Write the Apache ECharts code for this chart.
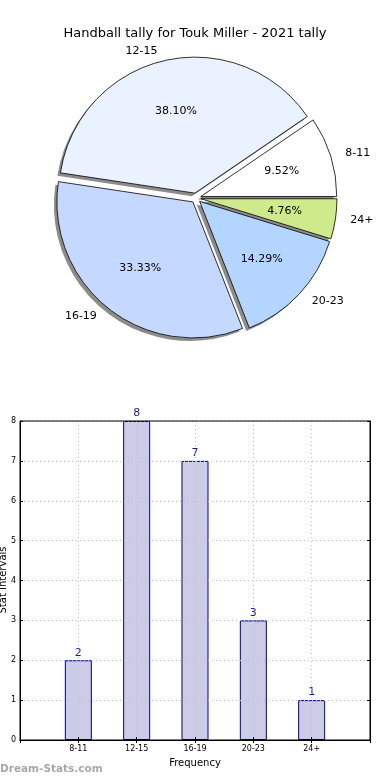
<!DOCTYPE html>
<html>
<head>
<meta charset="utf-8">
<script src="https://cdn.jsdelivr.net/npm/echarts@6/dist/echarts.min.js"></script>
<style>
html,body{margin:0;padding:0;background:#fff;}
#main{width:390px;height:780px;}
</style>
</head>
<body>
<div id="main"></div>
<script>
var chartTitle = 'Handball tally for Touk Miller - 2021 tally';
var categories = ['8-11', '12-15', '16-19', '20-23', '24+'];
var counts = [2, 8, 7, 3, 1];
var sliceColors = ['#ffffff', '#eaf1ff', '#c5d8ff', '#b3d5ff', '#cfea8b'];
var yTicks = [0, 1, 2, 3, 4, 5, 6, 7, 8];
var xAxisName = 'Frequency';
var yAxisName = 'Stat Intervals';
var watermark = 'Dream-Stats.com';

var FONT = 'DejaVu Sans';
var total = counts.reduce(function (a, b) { return a + b; }, 0);
var R = 136;
var CX = 196, CY = 198;
var OFFSET = 5;

var pieData = categories.map(function (c, i) {
  return { name: c, value: counts[i], selected: true, itemStyle: { color: sliceColors[i] } };
});
var shadowData = categories.map(function (c, i) {
  return { name: c, value: counts[i], selected: true };
});
var pctData = categories.map(function (c, i) {
  return { name: c, value: counts[i], selected: true };
});

var barCats = [''].concat(categories).concat(['']);
var barVals = [null].concat(counts).concat([null]);

var pieCommon = {
  type: 'pie',
  startAngle: 0,
  clockwise: false,
  selectedMode: 'multiple',
  selectedOffset: OFFSET,
  avoidLabelOverlap: false,
  silent: true,
  emphasis: { disabled: true }
};

var tickStyle = { show: true, inside: true, length: 3, lineStyle: { color: '#000' } };
var gridLine = { show: true, lineStyle: { color: '#c0c0c0', type: [1, 3], width: 1 } };

var chart = echarts.init(document.getElementById('main'), null, { renderer: 'canvas' });
chart.setOption({
  animation: false,
  backgroundColor: '#ffffff',
  textStyle: { fontFamily: FONT },
  title: {
    text: chartTitle,
    left: 'center',
    top: 22,
    textStyle: { fontFamily: FONT, fontSize: 13, fontWeight: 'normal', color: '#000' }
  },
  graphic: [
    {
      type: 'text',
      left: 0,
      top: 764,
      style: { text: watermark, font: 'bold 10.5px "DejaVu Sans"', fill: '#a8a8a8' }
    },
    {
      type: 'text',
      x: 8,
      y: 580,
      rotation: Math.PI / 2,
      style: { text: yAxisName, font: '10px "DejaVu Sans"', fill: '#000', align: 'center', verticalAlign: 'bottom' }
    }
  ],
  grid: {
    left: 20, right: 20, top: 421, bottom: 40,
    containLabel: false,
    outerBoundsMode: 'none',
    z: 10,
    show: true, borderColor: '#000', borderWidth: 1, backgroundColor: 'transparent'
  },
  xAxis: [
    {
      type: 'category',
      data: barCats,
      boundaryGap: false,
      z: 3,
      name: xAxisName,
      nameLocation: 'middle',
      nameGap: 18,
      nameTextStyle: { fontFamily: FONT, fontSize: 10, color: '#000' },
      axisLine: { show: true, lineStyle: { color: '#000', width: 1 } },
      axisTick: tickStyle,
      axisLabel: { fontFamily: FONT, fontSize: 8, color: '#000', margin: 5 },
      splitLine: gridLine
    },
    {
      type: 'category',
      data: barCats,
      boundaryGap: false,
      position: 'top',
      z: 6,
      axisLine: { show: true, lineStyle: { color: '#000', width: 1 } },
      axisTick: tickStyle,
      axisLabel: { show: false },
      splitLine: { show: false }
    }
  ],
  yAxis: [
    {
      type: 'value',
      min: yTicks[0],
      max: yTicks[yTicks.length - 1],
      interval: 1,
      z: 3,
      axisLine: { show: true, lineStyle: { color: '#000', width: 1 } },
      axisTick: tickStyle,
      axisLabel: { fontFamily: FONT, fontSize: 8, color: '#000', margin: 4 },
      splitLine: gridLine
    },
    {
      type: 'value',
      min: yTicks[0],
      max: yTicks[yTicks.length - 1],
      interval: 1,
      position: 'right',
      z: 6,
      axisLine: { show: true, lineStyle: { color: '#000', width: 1 } },
      axisTick: tickStyle,
      axisLabel: { show: false },
      splitLine: { show: false }
    }
  ],
  series: [
    Object.assign({}, pieCommon, {
      center: [CX - 3, CY + 3],
      radius: [0, R],
      z: 1,
      data: shadowData,
      itemStyle: { color: 'rgba(0,0,0,0.45)', borderWidth: 0 },
      select: { itemStyle: { color: 'rgba(0,0,0,0.45)', borderWidth: 0 } },
      label: { show: false },
      labelLine: { show: false }
    }),
    Object.assign({}, pieCommon, {
      center: [CX, CY],
      radius: [0, R],
      z: 2,
      data: pieData,
      itemStyle: { borderColor: '#000', borderWidth: 0.8 },
      select: { itemStyle: { borderColor: '#000', borderWidth: 0.8 } },
      label: {
        show: true,
        position: 'outside',
        fontFamily: FONT,
        fontSize: 11,
        color: '#000',
        formatter: '{b}'
      },
      labelLine: { show: false, length: 10, length2: 0 }
    }),
    Object.assign({}, pieCommon, {
      center: [CX, CY],
      radius: [R * 0.2, R],
      z: 5,
      data: pctData,
      itemStyle: { color: 'rgba(0,0,0,0)', borderWidth: 0 },
      select: { itemStyle: { color: 'rgba(0,0,0,0)', borderWidth: 0 } },
      label: {
        show: true,
        position: 'inside',
        fontFamily: FONT,
        fontSize: 11,
        color: '#000',
        formatter: function (p) { return (p.value / total * 100).toFixed(2) + '%'; }
      },
      labelLine: { show: false }
    }),
    {
      type: 'bar',
      xAxisIndex: 0,
      yAxisIndex: 0,
      data: barVals,
      barWidth: 27,
      itemStyle: { color: '#cccce6', borderColor: '#00008b', borderWidth: 1 },
      label: {
        show: true,
        position: 'top',
        distance: 2,
        fontFamily: FONT,
        fontSize: 11,
        color: '#1c1c8e'
      },
      emphasis: { disabled: true },
      silent: true
    }
  ]
});
</script>
</body>
</html>
